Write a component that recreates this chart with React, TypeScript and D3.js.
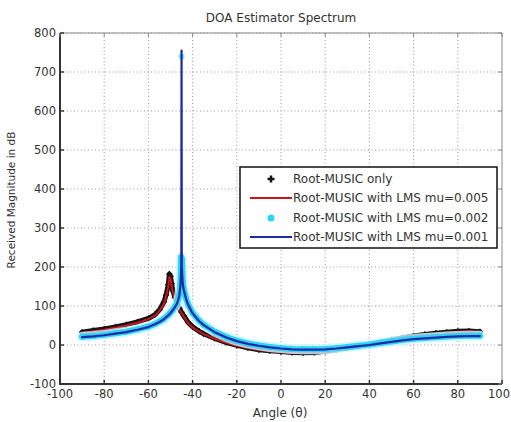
import React from "react";
import * as d3 from "d3";

type P = [number, number];

const xTicks = [-100, -80, -60, -40, -20, 0, 20, 40, 60, 80, 100];
const yTicks = [-100, 0, 100, 200, 300, 400, 500, 600, 700, 800];

const titleText = "DOA Estimator Spectrum";
const xLabel = "Angle (\u03b8)";
const yLabel = "Received Magnitude in dB";
const legendLabels = [
  "Root-MUSIC only",
  "Root-MUSIC with LMS mu=0.005",
  "Root-MUSIC with LMS mu=0.002",
  "Root-MUSIC with LMS mu=0.001",
];

const rootMusicOnly: P[] = [
  [-90, 33], [-85, 37], [-80, 41], [-75, 46], [-70, 52], [-65, 59], [-60, 68], [-57, 78],
  [-55, 90], [-53, 110], [-52, 128], [-51, 155], [-50.5, 182], [-50, 176], [-49.5, 158],
  [-49, 140], [-48, 122], [-47, 106], [-46, 94], [-45, 84], [-44, 75], [-42, 58], [-40, 47],
  [-37, 35], [-35, 29], [-30, 17], [-25, 7], [-20, -1], [-15, -7], [-10, -12], [-5, -15],
  [0, -17], [5, -19], [10, -20], [15, -19], [20, -16], [25, -12], [30, -8], [35, -3],
  [40, 2], [45, 8], [50, 13], [55, 18], [60, 23], [65, 27], [70, 30], [75, 33], [80, 35],
  [85, 36], [90, 34],
];

const lmsMu005: P[] = [
  [-90, 31], [-85, 35], [-80, 39], [-75, 44], [-70, 50], [-65, 57], [-60, 66], [-57, 76],
  [-55, 87], [-53, 106], [-52, 124], [-51, 150], [-50.5, 175], [-50, 170], [-49.5, 152],
  [-49, 135], [-48, 118], [-47, 103], [-46, 92], [-45, 82], [-44, 73], [-42, 56], [-40, 45],
  [-37, 34], [-35, 28], [-30, 16], [-25, 6], [-20, -2], [-15, -8], [-10, -13], [-5, -16],
  [0, -18], [5, -20], [10, -21], [15, -20], [20, -17], [25, -13], [30, -9], [35, -4],
  [40, 1], [45, 7], [50, 12], [55, 17], [60, 22], [65, 26], [70, 29], [75, 32], [80, 34],
  [85, 35], [90, 33],
];

const lmsMu002: P[] = [
  [-90, 21], [-85, 23], [-80, 26], [-75, 30], [-70, 34], [-65, 40], [-60, 47], [-57, 54],
  [-55, 60], [-53, 67], [-51, 77], [-50, 83], [-49, 90], [-48, 98], [-47, 108], [-46.5, 117],
  [-46, 128], [-45.5, 158], [-45.2, 225], [-45, 740], [-44.8, 220], [-44.5, 165], [-44, 142],
  [-43, 120], [-42, 104], [-40, 82], [-37, 62], [-35, 52], [-30, 34], [-25, 21], [-20, 11],
  [-15, 4], [-10, -1], [-5, -5], [0, -8], [5, -10], [10, -11], [15, -11], [20, -10],
  [25, -8], [30, -5], [35, -2], [40, 1], [45, 5], [50, 9], [55, 13], [60, 16], [65, 18],
  [70, 20], [75, 22], [80, 23], [85, 24], [90, 24],
];

const lmsMu001: P[] = [
  [-90, 20], [-85, 22], [-80, 25], [-75, 29], [-70, 33], [-65, 39], [-60, 46], [-57, 53],
  [-55, 59], [-53, 66], [-51, 76], [-50, 82], [-49, 89], [-48, 97], [-47, 107], [-46.5, 116],
  [-46, 127], [-45.5, 152], [-45.1, 200], [-45, 755], [-44.9, 200], [-44.5, 160], [-44, 141],
  [-43, 119], [-42, 103], [-40, 81], [-37, 61], [-35, 51], [-30, 33], [-25, 20], [-20, 10],
  [-15, 3], [-10, -2], [-5, -6], [0, -9], [5, -11], [10, -12], [15, -12], [20, -11],
  [25, -9], [30, -6], [35, -3], [40, 0], [45, 4], [50, 8], [55, 12], [60, 15], [65, 17],
  [70, 19], [75, 21], [80, 22], [85, 23], [90, 23],
];

const FONT = "'DejaVu Sans', Verdana, sans-serif";
const TEXT = "#333";

export default function App() {
  const W = 511, H = 422;
  const L = 60, R = 502, T = 33, B = 384;
  const x = d3.scaleLinear().domain([-100, 100]).range([L, R]);
  const y = d3.scaleLinear().domain([-100, 800]).range([B, T]);

  const line = d3.line<P>().x((d) => x(d[0])).y((d) => y(d[1]));
  const cyanLine = d3
    .line<P>()
    .defined((d) => d[1] < 300)
    .x((d) => x(d[0]))
    .y((d) => y(d[1]));

  const black = "#141414";
  const red = "#c8141e";
  const cyan = "#2fd3f3";
  const blue = "#1c2aa8";

  const plus = (cx: number, cy: number, s: number, w: number, key?: any) => (
    <g key={key} stroke={black} strokeWidth={w}>
      <line x1={cx - s} x2={cx + s} y1={cy} y2={cy} />
      <line x1={cx} x2={cx} y1={cy - s} y2={cy + s} />
    </g>
  );

  const legX = 240, legY = 167, legW = 257, legH = 81;
  const rowY = [179, 198, 218, 237];

  return (
    <svg width={W} height={H} style={{ position: "absolute", left: 0, top: 0, background: "#fff" }}>
      <defs>
        <clipPath id="plotClip">
          <rect x={L} y={T - 2} width={R - L} height={B - T + 2} />
        </clipPath>
      </defs>
      <rect x={0} y={0} width={W} height={H} fill="#fff" />
      {/* grid */}
      <g stroke="#9a9a9a" strokeWidth={1} strokeDasharray="1 2.5">
        {xTicks.slice(1, -1).map((t) => (
          <line key={"gx" + t} x1={x(t)} x2={x(t)} y1={T} y2={B} />
        ))}
        {yTicks.slice(1).map((t) => (
          <line key={"gy" + t} x1={L} x2={R} y1={y(t)} y2={y(t)} />
        ))}
      </g>
      {/* curves */}
      <g clipPath="url(#plotClip)" fill="none" strokeLinejoin="round" strokeLinecap="round">
        <path d={line(rootMusicOnly) || ""} stroke={black} strokeWidth={5} />
        {rootMusicOnly.map((d, i) => plus(x(d[0]), y(d[1]), 2.5, 1.5, "bm" + i))}
        <path d={line(lmsMu005) || ""} stroke={red} strokeWidth={2} />
        <path d={cyanLine(lmsMu002) || ""} stroke="#c8f4ff" strokeWidth={10} opacity={0.8} />
        <path d={cyanLine(lmsMu002) || ""} stroke={cyan} strokeWidth={6} />
        {lmsMu002.map((d, i) => (
          <circle key={"cm" + i} cx={x(d[0])} cy={y(d[1])} r={3} fill={cyan} stroke="none" opacity={d[1] > 300 ? 0.6 : 1} />
        ))}
        <path d={line(lmsMu001) || ""} stroke={blue} strokeWidth={2.2} />
      </g>
      {/* axes box */}
      <line x1={L} x2={R} y1={T} y2={T} stroke="#8a8a8a" strokeWidth={1} />
      <line x1={R} x2={R} y1={T} y2={B} stroke="#8a8a8a" strokeWidth={1} />
      <line x1={L} x2={L} y1={T} y2={B + 1} stroke="#333" strokeWidth={2} />
      <line x1={L - 1} x2={R} y1={B} y2={B} stroke="#333" strokeWidth={2} />
      {/* ticks */}
      <g stroke="#333" strokeWidth={1.5}>
        {xTicks.map((t) => (
          <line key={"tx" + t} x1={x(t)} x2={x(t)} y1={B} y2={B - 4} />
        ))}
        {yTicks.map((t) => (
          <line key={"ty" + t} x1={L} x2={L + 4} y1={y(t)} y2={y(t)} />
        ))}
      </g>
      <g stroke="#8a8a8a" strokeWidth={1}>
        {xTicks.map((t) => (
          <line key={"tx2" + t} x1={x(t)} x2={x(t)} y1={T} y2={T + 4} />
        ))}
        {yTicks.map((t) => (
          <line key={"ty2" + t} x1={R} x2={R - 4} y1={y(t)} y2={y(t)} />
        ))}
      </g>
      {/* tick labels */}
      <g fontFamily={FONT} fontSize={11.5} fill={TEXT}>
        {xTicks.map((t) => {
          const isLast = t === xTicks[xTicks.length - 1];
          return (
            <text
              key={"lx" + t}
              x={isLast ? W - 1 : x(t)}
              y={398}
              textAnchor={isLast ? "end" : "middle"}
            >
              {t}
            </text>
          );
        })}
        {yTicks.map((t) => (
          <text key={"ly" + t} x={L - 4} y={y(t) + 4} textAnchor="end">
            {t}
          </text>
        ))}
      </g>
      <text x={281} y={22} textAnchor="middle" fontFamily={FONT} fontSize={12} fill={TEXT}>
        {titleText}
      </text>
      <text x={280} y={417} textAnchor="middle" fontFamily={FONT} fontSize={12} fill={TEXT}>
        {xLabel}
      </text>
      <text
        x={0}
        y={0}
        transform={`translate(15, ${200}) rotate(-90)`}
        textAnchor="middle"
        fontFamily={FONT}
        fontSize={10.5}
        fill={TEXT}
      >
        {yLabel}
      </text>
      {/* legend */}
      <rect x={legX} y={legY} width={legW} height={legH} fill="#fff" stroke="#111" strokeWidth={1.5} />
      {plus(271, rowY[0], 3.5, 2.5)}
      <line x1={250} x2={292} y1={rowY[1]} y2={rowY[1]} stroke={red} strokeWidth={2} />
      <circle cx={271} cy={rowY[2]} r={3.5} fill={cyan} />
      <line x1={250} x2={292} y1={rowY[3]} y2={rowY[3]} stroke={blue} strokeWidth={2} />
      <g fontFamily={FONT} fontSize={12} fill={TEXT}>
        {legendLabels.map((s, i) => (
          <text key={"lg" + i} x={293} y={rowY[i] + 4}>
            {s}
          </text>
        ))}
      </g>
    </svg>
  );
}
